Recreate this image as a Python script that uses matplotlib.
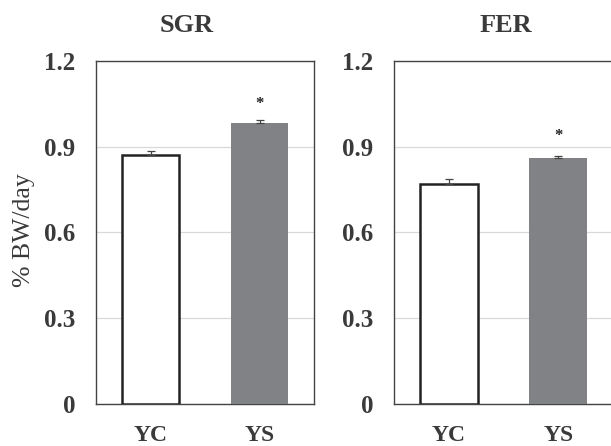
import matplotlib
matplotlib.use("Agg")
import matplotlib.pyplot as plt

categories = ["YC", "YS"]
titles = ["SGR", "FER"]
sgr_values = [0.871, 0.983]
sgr_errors = [0.013, 0.010]
fer_values = [0.770, 0.861]
fer_errors = [0.016, 0.007]
yticks = [0, 0.3, 0.6, 0.9, 1.2]
ytick_labels = ["0", "0.3", "0.6", "0.9", "1.2"]
ylabel = "% BW/day"

plt.rcParams['font.family'] = ['Liberation Serif', 'DejaVu Serif']

fig = plt.figure(figsize=(6.11, 4.46), dpi=100)
W, H = 611, 446
axes_px = [(96, 61, 218, 343), (394, 61, 220, 343)]
title_x = [187, 506]
star_offset = [0.058, 0.07]
text_col = "#3a3a3a"

for i, (vals, errs) in enumerate([(sgr_values, sgr_errors), (fer_values, fer_errors)]):
    x0, y0, w, h = axes_px[i]
    ax = fig.add_axes([x0 / W, 1 - (y0 + h) / H, w / W, h / H])
    xs = list(range(len(categories)))
    ax.bar(xs[0], vals[0], width=0.53, color="white", edgecolor="#222222", linewidth=1.8, zorder=3)
    ax.bar(xs[1], vals[1], width=0.53, color="#808285", edgecolor="#808285", linewidth=0, zorder=3)
    ax.errorbar(xs, vals, yerr=[[0, 0], errs], fmt="none", ecolor="#444444",
                elinewidth=0.9, capsize=3, capthick=0.9, zorder=4)
    ax.text(xs[1], vals[1] + errs[1] + star_offset[i], "*", ha="center", va="center",
            fontsize=12, fontweight="bold", color="#222222")
    ax.set_xlim(-0.5, 1.5 if i == 0 else 1.51)
    ax.set_ylim(0, 1.2)
    ax.set_yticks(yticks)
    ax.set_yticklabels(ytick_labels)
    ax.set_xticks(xs)
    ax.set_xticklabels(categories)
    ax.tick_params(axis="y", length=0, labelsize=18, colors=text_col, pad=15)
    ax.tick_params(axis="x", length=0, labelsize=17, colors=text_col, pad=15)
    for lab in ax.get_xticklabels() + ax.get_yticklabels():
        lab.set_fontweight("bold")
    ax.grid(axis="y", color="#d9d9d9", linewidth=0.9, zorder=0)
    ax.set_axisbelow(True)
    for s in ax.spines.values():
        s.set_color("#444444")
        s.set_linewidth(1.0)
    fig.text(title_x[i] / W, 1 - 25 / H, titles[i], ha="center", va="center",
             fontsize=19, fontweight="bold", color=text_col)
    if i == 0:
        fig.text(24 / W, 1 - 230 / H, ylabel, rotation=90, ha="center", va="center",
                 fontsize=18.5, color=text_col)

fig.savefig("out.png", dpi=100)
